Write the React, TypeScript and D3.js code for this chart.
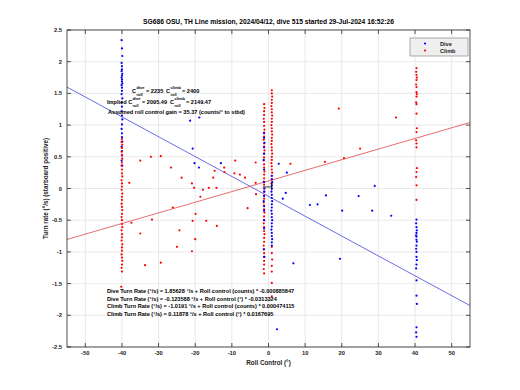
import React from 'react';
import * as d3 from 'd3';

const W = 520;
const H = 390;
const plot = { left: 67, top: 30, right: 470, bottom: 347 };

const xTicks = [-50, -40, -30, -20, -10, 0, 10, 20, 30, 40, 50];
const yTicks = [-2.5, -2, -1.5, -1, -0.5, 0, 0.5, 1, 1.5, 2, 2.5];

// fits: [intercept (deg/s), slope (deg/s per deg roll)]
const diveFit = [-0.123588, -0.0313324];
const climbFit = [0.11878, 0.0167695];

// [roll (deg), turn rate (deg/s)]
const diveNeg40: [number, number][] = [
  [-40.1, 2.34], [-40.0, 2.21], [-39.9, 2.09], [-40.1, 1.98], [-40.0, 1.93], [-40.0, 1.88],
  [-40.1, 1.85], [-39.9, 1.81], [-40.0, 1.78], [-40.1, 1.75], [-40.0, 1.72], [-40.0, 1.69],
  [-39.9, 1.66], [-40.1, 1.63], [-40.0, 1.59], [-40.0, 1.54], [-40.1, 1.49], [-39.9, 1.42],
  [-40.0, 1.36], [-40.0, 1.29], [-40.1, 1.22], [-40.0, 1.15], [-39.9, 1.09], [-40.0, 1.01],
  [-40.1, 0.94], [-40.0, 0.87], [-40.0, 0.81], [-39.9, 0.74], [-40.1, 0.66], [-40.0, 0.59],
  [-40.0, 0.52], [-40.1, 0.44], [-39.9, 0.36],
];
const climbNeg40: [number, number][] = [
  [-40.0, 0.78], [-40.1, 0.73], [-39.9, 0.69], [-40.0, 0.64], [-40.1, 0.58], [-40.0, 0.53],
  [-39.9, 0.47], [-40.0, 0.41], [-40.1, 0.36], [-40.0, 0.30], [-40.0, 0.24], [-39.9, 0.19],
  [-40.1, 0.13], [-40.0, 0.08], [-40.0, 0.03], [-40.1, -0.02], [-39.9, -0.08], [-40.0, -0.13],
  [-40.0, -0.18], [-40.1, -0.24], [-40.0, -0.29], [-39.9, -0.34], [-40.0, -0.40], [-40.1, -0.45],
  [-40.0, -0.50], [-40.0, -0.56], [-39.9, -0.61], [-40.1, -0.66], [-40.0, -0.72], [-40.0, -0.77],
  [-40.1, -0.82], [-39.9, -0.88], [-40.0, -0.93], [-40.0, -0.98], [-40.1, -1.04], [-40.0, -1.09],
  [-39.9, -1.14], [-40.0, -1.20], [-40.1, -1.25], [-40.0, -1.31], [-40.2, -1.55],
];
const diveZero: [number, number][] = [
  [-1.2, 0.87], [-1.2, 0.8], [-1.1, 0.72], [-1.2, 0.65], [-1.2, 0.55], [-1.3, 0.45],
  [-1.2, 0.3], [-1.2, 0.1], [-1.1, 0.0], [-1.2, -0.05], [-1.2, -0.12], [-1.3, -0.2],
  [-1.2, -0.28], [-1.2, -0.35], [-1.2, -0.5], [-1.2, -0.63], [-1.3, -0.96], [-1.2, -1.08],
  [0.9, 0.2], [0.9, 0.15], [1.0, 0.1], [0.9, 0.05], [0.9, 0.0], [0.8, -0.05], [0.9, -0.1],
  [0.9, -0.15], [1.0, -0.2], [0.9, -0.25], [0.9, -0.3], [0.8, -0.35], [0.9, -0.4],
  [0.9, -0.45], [1.0, -0.5], [0.9, -0.55], [0.9, -0.6], [0.8, -0.65], [0.9, -0.7],
  [0.9, -0.75], [1.0, -0.8], [0.9, -0.85], [0.9, -0.9],
];
const climbZero: [number, number][] = [
  [-1.2, 1.33], [-1.1, 1.27], [-1.2, 1.22], [-1.2, 1.16], [-1.3, 1.1], [-1.2, 1.05],
  [-1.2, 0.99], [-1.1, 0.93], [-1.2, 0.88], [-1.2, 0.82], [-1.3, 0.77], [-1.2, 0.71],
  [-1.2, 0.66], [-1.1, 0.6], [-1.2, 0.55], [-1.2, 0.49], [-1.3, 0.44], [-1.2, 0.38],
  [-1.2, 0.33], [-1.1, 0.27], [-1.2, 0.22], [-1.2, 0.16], [-1.3, 0.11], [-1.2, 0.06],
  [-1.2, 0.0], [-1.1, -0.05], [-1.2, -0.11], [-1.2, -0.16], [-1.3, -0.22], [-1.2, -0.27],
  [-1.2, -0.33], [-1.1, -0.38], [-1.2, -0.44], [-1.2, -0.5], [-1.3, -0.55], [-1.2, -0.61],
  [-1.2, -0.67], [-1.1, -0.72], [-1.2, -0.78], [-1.2, -0.84], [-1.3, -0.9], [-1.2, -0.96],
  [-1.2, -1.02], [-1.1, -1.08], [-1.2, -1.14], [-1.2, -1.2], [-1.3, -1.27], [-1.2, -1.34],
  [0.9, 1.55], [0.9, 1.5], [1.0, 1.45], [0.9, 1.4], [0.9, 1.35], [0.8, 1.3], [0.9, 1.25],
  [0.9, 1.2], [1.0, 1.15], [0.9, 1.1], [0.9, 1.05], [0.8, 1.0], [0.9, 0.95], [0.9, 0.9],
  [1.0, 0.85], [0.9, 0.8], [0.9, 0.75], [0.8, 0.7], [0.9, 0.65], [0.9, 0.6], [1.0, 0.55],
  [0.9, 0.5], [0.9, 0.45], [0.8, 0.4], [0.9, 0.35], [0.9, 0.3], [1.0, 0.25], [0.9, 0.2],
  [0.9, 0.14], [0.8, 0.08], [0.9, -0.92], [0.9, -1.02], [1.0, -1.12], [0.9, -1.22],
  [0.9, -1.31], [0.9, -1.49], [0.9, -1.7],
];
const dive40: [number, number][] = [
  [40.4, -0.49], [40.3, -0.55], [40.4, -0.61], [40.5, -0.66], [40.4, -0.70], [40.3, -0.74],
  [40.4, -0.76], [40.4, -0.81], [40.5, -0.84], [40.4, -0.90], [40.3, -0.95], [40.4, -1.0],
  [40.4, -1.08], [40.5, -1.13], [40.4, -1.20], [40.3, -1.26], [40.4, -1.45], [40.4, -1.69],
  [40.5, -1.82], [40.4, -2.19], [40.3, -2.27], [40.4, -2.34],
];
const climb40: [number, number][] = [
  [40.4, 1.90], [40.3, 1.84], [40.4, 1.79], [40.5, 1.75], [40.4, 1.71], [40.3, 1.64],
  [40.4, 1.60], [40.4, 1.52], [40.5, 1.49], [40.4, 1.45], [40.3, 1.36], [40.4, 1.33],
  [40.4, 1.18], [40.5, 0.95], [40.4, 0.89], [40.3, 0.76], [40.4, 0.71], [40.4, 0.65],
  [40.5, 0.32], [40.4, 0.26], [40.3, 0.18], [40.4, 0.05], [40.4, -0.18],
];
const diveScatter: [number, number][] = [
  [2.8, 0.39], [5, 0.25], [29, 0.04], [4.7, -0.07], [3.9, -0.16], [15.7, -0.11],
  [24.6, -0.12], [11.3, -0.26], [13.4, -0.25], [20.1, -0.35], [28.3, -0.35], [33.5, -0.43],
  [6.8, -1.18], [19.5, -1.11], [-20.7, 0.63], [-20.2, 0.4], [-19, 0.33], [-13, 0.4],
  [-21.4, 1.07], [-18.9, 1.12], [2.3, -2.22],
];
const climbScatter: [number, number][] = [
  [-38, 0.09], [-35, 0.44], [-32.1, 0.5], [-29.4, 0.51], [-26.6, 0.33], [-23.7, 0.17],
  [-20.9, 0.08], [-20.3, 0.01], [-17.9, -0.02], [-16.3, 0.01], [-14.2, 0.01], [-18.6, -0.13],
  [-15.1, 0.17], [-14.7, 0.28], [-12.1, 0.33], [-12, 0.26], [-9.1, 0.44], [-9.3, 0.24],
  [-7.8, 0.22], [-6.4, 0.17], [-3.5, 0.41], [-3.5, 0.09], [-3.4, -0.09], [-5.7, -0.31],
  [6, 0.39], [15.4, 0.42], [20.6, 0.48], [25, 0.63], [19.2, 1.26], [34.8, 1.12],
  [-26.1, -0.3], [-31.8, -0.49], [-37.4, -0.54], [-35, -0.71], [-24.3, -0.66], [-19.9, -0.4],
  [-20.7, -0.51], [-17, -0.51], [-14.1, -0.59], [-20, -0.8], [-25, -0.92], [-20.9, -0.99],
  [-33.7, -1.21], [-29.4, -1.17],
];
// small black centre cross
const crossRoll = [-1.6, 1.0];
const crossTurn = [-0.03, 0.09];
const crossAt = [0.9, 0.025];

const fitLines = [
  'Dive Turn Rate (°/s) = 1.85628  °/s + Roll control (counts) * -0.000885847',
  'Dive Turn Rate (°/s) = -0.123588 °/s + Roll control (°) * -0.0313324',
  'Climb Turn Rate (°/s) = -1.0191 °/s + Roll control (counts) * 0.000474115',
  'Climb Turn Rate (°/s) = 0.11878  °/s + Roll control (°) * 0.0167695',
];

const DIVE = '#0000ff';
const CLIMB = '#ff0000';
const FONT = '"Liberation Sans", Arial, sans-serif';

const App: React.FC = () => {
  const x = d3.scaleLinear().domain([-55, 55]).range([plot.left, plot.right]);
  const y = d3.scaleLinear().domain([-2.5, 2.5]).range([plot.bottom, plot.top]);

  const fitPath = (fit: number[]) =>
    d3.line<number>().x((r) => x(r)).y((r) => y(fit[0] + fit[1] * r))([-55, 55]) || '';

  const dots = (pts: [number, number][], color: string, key: string) =>
    pts.map((p, i) => (
      <circle key={`${key}${i}`} cx={x(p[0])} cy={y(p[1])} r={1.1} fill={color} />
    ));

  const tick = 4;
  const small = { fontFamily: FONT, fontWeight: 700, fill: '#222' } as const;

  return (
    <svg
      width={W}
      height={H}
      style={{ position: 'absolute', left: 0, top: 0, background: '#fff' }}
      fontFamily={FONT}
    >
      <defs>
        <clipPath id="plotClip">
          <rect x={plot.left} y={plot.top} width={plot.right - plot.left} height={plot.bottom - plot.top} />
        </clipPath>
      </defs>

      {/* grid */}
      {xTicks.map((t) => (
        <line key={`gx${t}`} x1={x(t)} x2={x(t)} y1={plot.top} y2={plot.bottom} stroke="#e3e3e3" strokeWidth={0.8} />
      ))}
      {yTicks.map((t) => (
        <line key={`gy${t}`} x1={plot.left} x2={plot.right} y1={y(t)} y2={y(t)} stroke="#e3e3e3" strokeWidth={0.8} />
      ))}

      {/* fits + points */}
      <g clipPath="url(#plotClip)">
        <path d={fitPath(diveFit)} stroke="#4646e0" strokeWidth={0.8} fill="none" />
        <path d={fitPath(climbFit)} stroke="#e04646" strokeWidth={0.8} fill="none" />
        {dots(diveNeg40, DIVE, 'dn')}
        {dots(dive40, DIVE, 'dp')}
        {dots(diveScatter, DIVE, 'ds')}
        {dots(climbNeg40, CLIMB, 'cn')}
        {dots(climbZero, CLIMB, 'cz')}
        {dots(diveZero, DIVE, 'dz')}
        {dots(climb40, CLIMB, 'cp')}
        {dots(climbScatter, CLIMB, 'cs')}
        <line x1={x(crossRoll[0])} x2={x(crossRoll[1])} y1={y(crossAt[1])} y2={y(crossAt[1])} stroke="#000" strokeWidth={0.8} />
        <line x1={x(crossAt[0])} x2={x(crossAt[0])} y1={y(crossTurn[0])} y2={y(crossTurn[1])} stroke="#000" strokeWidth={0.8} />
      </g>

      {/* axes box + ticks */}
      <rect x={plot.left} y={plot.top} width={plot.right - plot.left} height={plot.bottom - plot.top} fill="none" stroke="#262626" strokeWidth={0.8} />
      {xTicks.map((t) => (
        <g key={`tx${t}`}>
          <line x1={x(t)} x2={x(t)} y1={plot.bottom} y2={plot.bottom - tick} stroke="#262626" strokeWidth={0.8} />
          <line x1={x(t)} x2={x(t)} y1={plot.top} y2={plot.top + tick} stroke="#262626" strokeWidth={0.8} />
          <text x={x(t)} y={355} textAnchor="middle" fontSize={5.8} {...small}>{t}</text>
        </g>
      ))}
      {yTicks.map((t) => (
        <g key={`ty${t}`}>
          <line x1={plot.left} x2={plot.left + tick} y1={y(t)} y2={y(t)} stroke="#262626" strokeWidth={0.8} />
          <line x1={plot.right} x2={plot.right - tick} y1={y(t)} y2={y(t)} stroke="#262626" strokeWidth={0.8} />
          <text x={62} y={y(t) + 2} textAnchor="end" fontSize={5.8} {...small}>{t}</text>
        </g>
      ))}

      {/* labels */}
      <text x={268.5} y={364.5} textAnchor="middle" fontSize={6.3} {...small}>Roll Control (°)</text>
      <text transform={`translate(48,${(plot.top + plot.bottom) / 2}) rotate(-90)`} textAnchor="middle" fontSize={6.3} {...small}>
        Turn rate (°/s) (starboard positive)
      </text>
      <text x={268.5} y={24} textAnchor="middle" fontSize={6.7} {...small} fill="#000">
        SG686 OSU, TH Line mission, 2024/04/12, dive 515 started 29-Jul-2024 16:52:26
      </text>

      {/* legend */}
      <rect x={410} y={38} width={58} height={18} fill="#efefef" stroke="#8a8a8a" strokeWidth={0.7} />
      <circle cx={425} cy={43.5} r={1.1} fill={DIVE} />
      <circle cx={425} cy={50.5} r={1.1} fill={CLIMB} />
      <text x={440} y={45.5} fontSize={5.6} {...small}>Dive</text>
      <text x={440} y={52.5} fontSize={5.6} {...small}>Climb</text>

      {/* roll centre annotations */}
      <g fontSize={5.6} {...small} fill="#000">
        <text x={132} y={93}>C</text>
        <text x={136.5} y={89} fontSize={4}>dive</text>
        <text x={136.5} y={96} fontSize={4}>roll</text>
        <text x={146} y={93}>= 2235</text>
        <text x={166} y={93}>C</text>
        <text x={170.5} y={89} fontSize={4}>climb</text>
        <text x={170.5} y={96} fontSize={4}>roll</text>
        <text x={182} y={93}>= 2400</text>

        <text x={107} y={104}>Implied C</text>
        <text x={132.5} y={100} fontSize={4}>dive</text>
        <text x={132.5} y={107} fontSize={4}>roll</text>
        <text x={142} y={104}>= 2095.49</text>
        <text x={170} y={104}>C</text>
        <text x={174.5} y={100} fontSize={4}>climb</text>
        <text x={174.5} y={107} fontSize={4}>roll</text>
        <text x={186} y={104}>= 2149.47</text>

        <text x={108} y={114}>Assumed roll control gain = 35.37 (counts/° to stbd)</text>

        {fitLines.map((s, i) => (
          <text key={s} x={107} y={293 + i * 7.6}>{s}</text>
        ))}
      </g>
    </svg>
  );
};

export default App;
